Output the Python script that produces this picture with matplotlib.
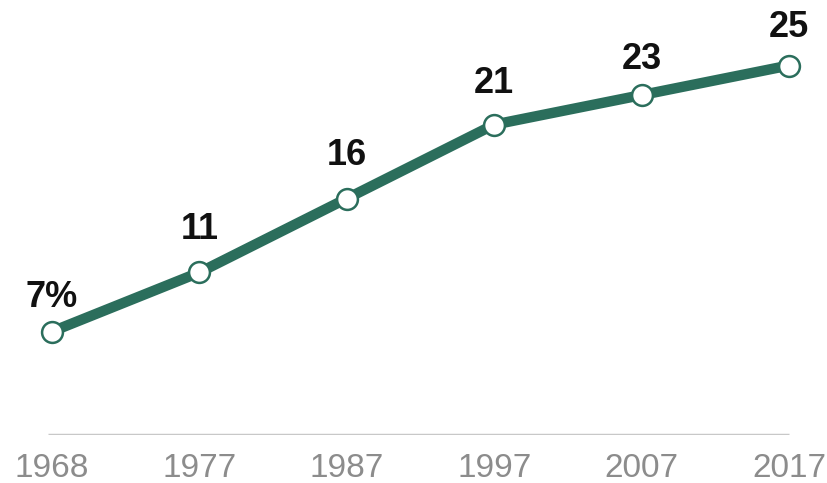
import matplotlib.pyplot as plt

# data
years = ["1968", "1977", "1987", "1997", "2007", "2017"]
share = [7, 11, 16, 21, 23, 25]
labels = ["7%", "11", "16", "21", "23", "25"]

# gap from marker centre to label baseline (pixels)
label_gap = [25, 33, 34, 32, 26, 29]

green = "#2b6e5c"

plt.rcParams['font.family'] = ['Liberation Sans', 'DejaVu Sans']

fig = plt.figure(figsize=(8.27, 4.83), dpi=100)
ax = fig.add_axes([0, 48 / 483, 1, 435 / 483])

x = list(range(len(years)))
ax.plot(x, share, color=green, linewidth=7.5, solid_capstyle='round', zorder=2)
ax.plot(x, share, linestyle='none', marker='o', markersize=15,
        markerfacecolor='white', markeredgecolor=green, markeredgewidth=1.8, zorder=3)

for xi, yi, lab, gap in zip(x, share, labels, label_gap):
    ax.annotate(lab, (xi, yi), xytext=(0, gap * 0.72), textcoords='offset points',
                ha='center', va='baseline', fontsize=26, fontweight='bold', color='#111111')

ax.hlines(0, -0.03, 5.0, color='#c8c8c8', linewidth=2.5, zorder=1)

ax.set_xlim(-52 / 147.4, 5 + 38 / 147.4)
ax.set_ylim(0, 435 / 14.78)
ax.set_xticks(x)
ax.set_xticklabels(years, fontsize=24, color='#8c8c8c')
ax.tick_params(axis='x', length=0, pad=13)
ax.set_yticks([])
for s in ax.spines.values():
    s.set_visible(False)
ax.patch.set_alpha(0)

fig.savefig("out.png", dpi=100)
